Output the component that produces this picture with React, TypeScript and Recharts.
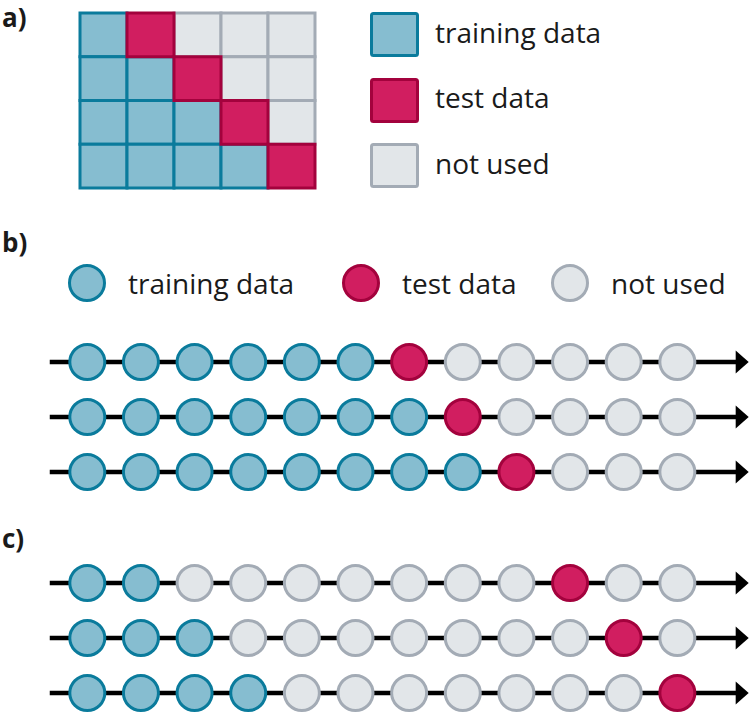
import React from "react";
import { ScatterChart, Scatter, XAxis, YAxis, Legend, ReferenceLine } from "recharts";

// panel a: 5 folds x 4 splits
const gridColumns = [0, 1, 2, 3, 4];
const gridRows = [0, 1, 2, 3];
const gridTrainingCount = [1, 2, 3, 4];
const gridTestColumn = [1, 2, 3, 4];

// panels b and c: 12 time steps per row
const timeSteps = [0, 1, 2, 3, 4, 5, 6, 7, 8, 9, 10, 11];
const splitRows = [0, 1, 2];
const panelBTrainingCount = [6, 7, 8];
const panelBTestStep = [6, 7, 8];
const panelCTrainingCount = [2, 3, 4];
const panelCTestStep = [9, 10, 11];

const legendOrder = ["training data", "test data", "not used"];

type Kind = "train" | "test" | "unused";

const STYLES: Record<Kind, { fill: string; stroke: string; label: string }> = {
  train: { fill: "#86BDD0", stroke: "#0A7B9C", label: "training data" },
  test: { fill: "#D11E60", stroke: "#A3023D", label: "test data" },
  unused: { fill: "#E2E6E9", stroke: "#A3ABB5", label: "not used" },
};
const styleByLabel: Record<string, { fill: string; stroke: string }> = {
  "training data": STYLES.train,
  "test data": STYLES.test,
  "not used": STYLES.unused,
};

interface Pt {
  x: number;
  y: number;
}

function classify(
  cols: number[],
  rows: number[],
  trainCount: number[],
  testAt: number[]
): Record<Kind, Pt[]> {
  const out: Record<Kind, Pt[]> = { train: [], test: [], unused: [] };
  rows.forEach((r) => {
    cols.forEach((c) => {
      const kind: Kind = c < trainCount[r] ? "train" : c === testAt[r] ? "test" : "unused";
      out[kind].push({ x: c, y: r });
    });
  });
  return out;
}

const gridPoints = classify(gridColumns, gridRows, gridTrainingCount, gridTestColumn);
const panelBPoints = classify(timeSteps, splitRows, panelBTrainingCount, panelBTestStep);
const panelCPoints = classify(timeSteps, splitRows, panelCTrainingCount, panelCTestStep);

// layout
const W = 750;
const CELL_W = 47;
const CELL_H = 43.75;
const STEP_PX = 53.64;
const FIRST_X = 87.3;
const ROW_PX = 55;
const DOT_R = 17.5;
const FONT = 28;
const xDomainSteps: [number, number] = [-FIRST_X / STEP_PX, (W - FIRST_X) / STEP_PX];
const lineStart = -0.7;
const lineEnd = 12.33;

const squareShape = (kind: Kind) => (props: any) => {
  const s = STYLES[kind];
  return (
    <rect
      x={props.cx - CELL_W / 2}
      y={props.cy - CELL_H / 2}
      width={CELL_W}
      height={CELL_H}
      fill={s.fill}
      stroke={s.stroke}
      strokeWidth={3}
    />
  );
};

const circleShape = (kind: Kind) => (props: any) => {
  const s = STYLES[kind];
  return <circle cx={props.cx} cy={props.cy} r={DOT_R} fill={s.fill} stroke={s.stroke} strokeWidth={3} />;
};

function ArrowLine(props: any) {
  const { x1, y1, x2 } = props;
  return (
    <g>
      <line x1={x1} y1={y1} x2={x2 - 10} y2={y1} stroke="#000" strokeWidth={4.5} />
      <polygon points={`${x2},${y1} ${x2 - 13},${y1 - 11.5} ${x2 - 13},${y1 + 11.5}`} fill="#000" />
    </g>
  );
}

function sortedPayload(payload: any[] | undefined): string[] {
  const names = (payload ?? []).map((p) => String(p.value));
  const list = names.length ? names : legendOrder;
  return [...list].sort((a, b) => legendOrder.indexOf(a) - legendOrder.indexOf(b));
}

function SquareLegend(props: any) {
  const labels = sortedPayload(props.payload);
  return (
    <div>
      {labels.map((label, i) => {
        const s = styleByLabel[label];
        return (
          <div
            key={label}
            style={{ display: "flex", alignItems: "center", height: 45, marginTop: i === 0 ? 0 : 20.5 }}
          >
            <svg width={49} height={45} style={{ display: "block" }}>
              <rect x={1.5} y={1.5} width={46} height={42} rx={2} fill={s.fill} stroke={s.stroke} strokeWidth={3} />
            </svg>
            <span style={{ marginLeft: 16, fontSize: FONT, lineHeight: `${FONT}px`, position: "relative", top: -3 }}>
              {label}
            </span>
          </div>
        );
      })}
    </div>
  );
}

const circleLegendLeft = [68, 342, 551];

function CircleLegend(props: any) {
  const labels = sortedPayload(props.payload);
  return (
    <div style={{ position: "relative", width: W, height: 40 }}>
      {labels.map((label, i) => {
        const s = styleByLabel[label];
        return (
          <div
            key={label}
            style={{ position: "absolute", left: circleLegendLeft[i] - 1, top: 0, display: "flex", alignItems: "center", height: 40 }}
          >
            <svg width={40} height={40} style={{ display: "block" }}>
              <circle cx={20} cy={20} r={DOT_R} fill={s.fill} stroke={s.stroke} strokeWidth={3} />
            </svg>
            <span style={{ marginLeft: 21, fontSize: FONT, lineHeight: `${FONT}px` }}>{label}</span>
          </div>
        );
      })}
    </div>
  );
}

function TimelineChart({
  points,
  top,
  showLegend,
}: {
  points: Record<Kind, Pt[]>;
  top: number;
  showLegend?: boolean;
}) {
  const plotH = ROW_PX * 3.5;
  return (
    <ScatterChart width={W} height={top + plotH + 8} margin={{ top, right: 0, bottom: 8, left: 0 }}>
      <XAxis type="number" dataKey="x" domain={xDomainSteps} hide />
      <YAxis type="number" dataKey="y" domain={[-0.75, 2.75]} reversed hide />
      {splitRows.map((r) => (
        <ReferenceLine
          key={r}
          segment={[
            { x: lineStart, y: r },
            { x: lineEnd, y: r },
          ]}
          ifOverflow="visible"
          shape={ArrowLine}
        />
      ))}
      {(["unused", "train", "test"] as Kind[]).map((k) => (
        <Scatter
          key={k}
          name={STYLES[k].label}
          data={points[k]}
          fill={STYLES[k].fill}
          shape={circleShape(k)}
          isAnimationActive={false}
        />
      ))}
      {showLegend && (
        <Legend
          layout="horizontal"
          align="center"
          verticalAlign="middle"
          wrapperStyle={{ left: 0, top: 33, width: W }}
          content={<CircleLegend />}
        />
      )}
    </ScatterChart>
  );
}

const panelLabel: React.CSSProperties = {
  position: "absolute",
  left: 2,
  fontSize: 26,
  lineHeight: "26px",
  fontWeight: 700,
};

export default function App() {
  return (
    <div
      style={{
        position: "fixed",
        left: 0,
        top: 0,
        width: W,
        height: 715,
        overflow: "hidden",
        background: "#fff",
        fontFamily: '"Open Sans", "Noto Sans", sans-serif',
        color: "#1a1a1a",
      }}
    >
      <div style={{ position: "absolute", left: 0, top: 0 }}>
        <ScatterChart width={W} height={200} margin={{ top: 13, right: W - 80 - CELL_W * 5, bottom: 12, left: 80 }}>
          <XAxis type="number" dataKey="x" domain={[-0.5, 4.5]} hide />
          <YAxis type="number" dataKey="y" domain={[-0.5, 3.5]} reversed hide />
          {(["unused", "train", "test"] as Kind[]).map((k) => (
            <Scatter
              key={k}
              name={STYLES[k].label}
              data={gridPoints[k]}
              fill={STYLES[k].fill}
              shape={squareShape(k)}
              isAnimationActive={false}
            />
          ))}
          <Legend
            layout="vertical"
            align="center"
            verticalAlign="middle"
            wrapperStyle={{ left: 370, top: 12, width: 320 }}
            content={<SquareLegend />}
          />
        </ScatterChart>
      </div>

      <div style={{ position: "absolute", left: 0, top: 230 }}>
        <TimelineChart points={panelBPoints} top={362 - 230 - ROW_PX * 0.75} showLegend />
      </div>

      <div style={{ position: "absolute", left: 0, top: 520 }}>
        <TimelineChart points={panelCPoints} top={583 - 520 - ROW_PX * 0.75} />
      </div>

      <div style={{ ...panelLabel, top: 4 }}>a)</div>
      <div style={{ ...panelLabel, top: 229 }}>b)</div>
      <div style={{ ...panelLabel, top: 525 }}>c)</div>
    </div>
  );
}
